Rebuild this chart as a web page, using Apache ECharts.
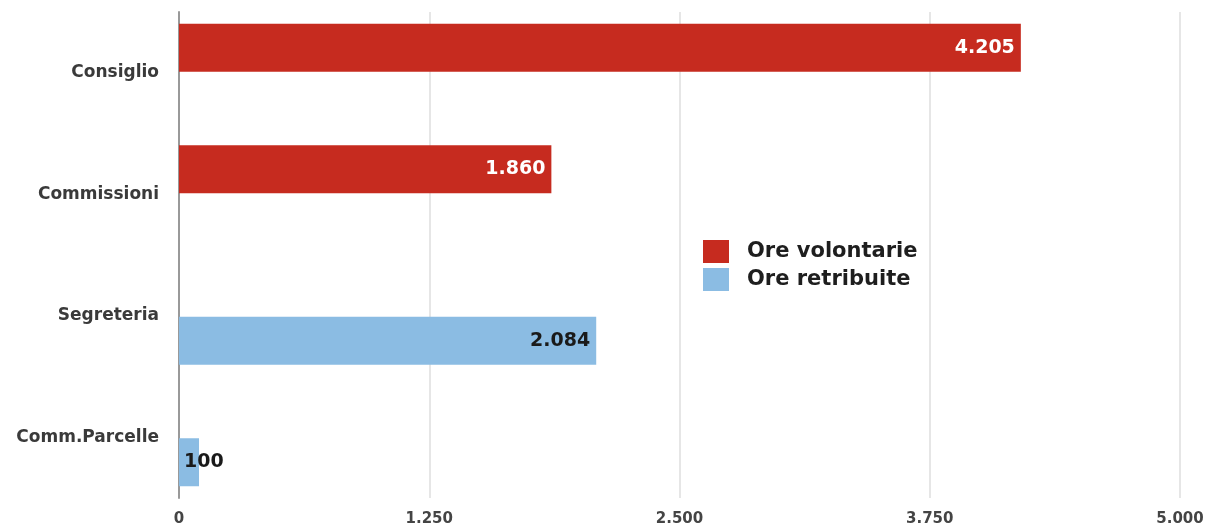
<!DOCTYPE html>
<html><head><meta charset="utf-8">
<script src="https://cdn.jsdelivr.net/npm/echarts@6/dist/echarts.min.js"></script>
<style>html,body{margin:0;padding:0;background:#fff}#c{width:1208px;height:528px}</style>
</head><body><div id="c"></div>
<script>
var categories = ['Consiglio', 'Commissioni', 'Segreteria', 'Comm.Parcelle'];
var oreVolontarie = [4205, 1860, null, null];
var oreRetribuite = [null, null, 2084, 100];
var xTicks = [0, 1250, 2500, 3750, 5000];

function fmt(v) { return String(v).replace(/\B(?=(\d{3})+(?!\d))/g, '.'); }

var chart = echarts.init(document.getElementById('c'));
chart.setOption({
  animation: false,
  grid: { left: 179, right: 28, top: 12, bottom: 30, containLabel: false },
  legend: {
    orient: 'vertical', left: 698, top: 235, itemWidth: 26, itemHeight: 23, itemGap: 5,
    icon: 'rect',
    textStyle: { fontFamily: 'DejaVu Sans', fontSize: 21, fontWeight: 'bold', color: '#1e1e1e', lineHeight: 23, padding: [0,0,0,13] },
    data: ['Ore volontarie', 'Ore retribuite']
  },
  xAxis: {
    type: 'value', min: xTicks[0], max: xTicks[xTicks.length - 1], interval: xTicks[1] - xTicks[0],
    axisLine: { show: false }, axisTick: { show: false },
    splitLine: { lineStyle: { color: '#dedede', width: 1.5 } },
    axisLabel: { margin: 14, fontFamily: 'DejaVu Sans', fontSize: 15, fontWeight: 'bold', color: '#444',
      formatter: function (v) { return fmt(v); } }
  },
  yAxis: {
    type: 'category', data: categories, inverse: true,
    axisLine: { show: true, lineStyle: { color: '#999', width: 2 } },
    axisTick: { show: false },
    axisLabel: { margin: 20, fontFamily: 'DejaVu Sans', fontSize: 17, fontWeight: 'bold', color: '#3a3a3a', padding: [3, 0, 0, 0] }
  },
  series: [
    { name: 'Ore volontarie', type: 'bar', data: oreVolontarie, barWidth: 48, barGap: '4%',
      itemStyle: { color: '#c62b1f' },
      label: { show: true, position: 'insideRight', distance: 6, color: '#fff', fontFamily: 'DejaVu Sans', fontSize: 19, fontWeight: 'bold',
        formatter: function (p) { return fmt(p.value); } } },
    { name: 'Ore retribuite', type: 'bar', barWidth: 48, barGap: '4%',
      itemStyle: { color: '#8bbce3' },
      data: oreRetribuite.map(function (v) {
        if (v !== null && v < 300) return { value: v, label: { position: 'insideLeft', distance: 5 } };
        return v;
      }),
      label: { show: true, position: 'insideRight', distance: 6, color: '#1a1a1a', fontFamily: 'DejaVu Sans', fontSize: 19, fontWeight: 'bold',
        formatter: function (p) { return fmt(p.value); } } }
  ]
});
</script></body></html>
